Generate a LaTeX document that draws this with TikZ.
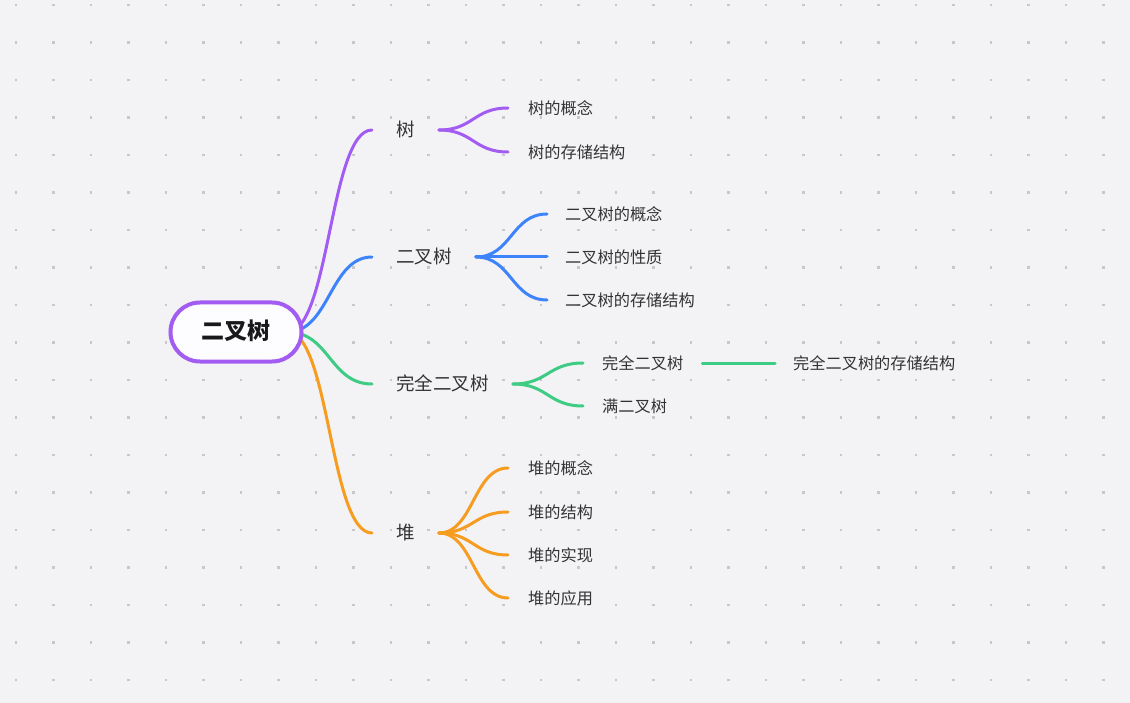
\documentclass[tikz,border=0pt]{standalone}
\usepackage{fontspec}
\newfontfamily\cjk{Noto Sans CJK SC}
\usetikzlibrary{calc}
\definecolor{bgc}{HTML}{F3F3F6}
\definecolor{dotc}{HTML}{C8C8CC}
\definecolor{cpurple}{HTML}{A35CF2}
\definecolor{cblue}{HTML}{3D83FA}
\definecolor{cgreen}{HTML}{3ECB83}
\definecolor{corange}{HTML}{F69C1F}
\definecolor{ctext}{HTML}{333333}
\definecolor{rootfill}{HTML}{FDFCFF}
\pgfdeclarelayer{back}
\pgfdeclarelayer{lines}
\pgfsetlayers{back,lines,main}
\begin{document}
\begin{tikzpicture}[x=1pt,y=-1pt,
  rootbox/.style={draw=cpurple, line width=4pt, fill=rootfill, minimum width=131pt, minimum height=59pt,
    rounded corners=29.5pt, inner sep=0pt, text=black!90, font=\cjk\bfseries\fontsize{23}{23}\selectfont,
    text height=1.5em, text depth=0.08em},
  lone/.style={anchor=west, inner xsep=24pt, inner ysep=0pt, text=ctext,
    font=\cjk\fontsize{18.5}{18.5}\selectfont, text height=1.3em, text depth=0.08em},
  ltwo/.style={anchor=west, inner xsep=20pt, inner ysep=0pt, text=ctext,
    font=\cjk\fontsize{16.2}{16.2}\selectfont, text height=1.3em, text depth=0.08em},
  lthree/.style={ltwo, inner xsep=18pt},
  link/.style={line width=3pt, line cap=round},
  branch/.style={to path={let \p1=(\tikztostart), \p2=(\tikztotarget) in
    .. controls ({0.5*\x1+0.5*\x2},\y1) and ({0.5*\x1+0.5*\x2},\y2) .. (\tikztotarget)}}
]
\useasboundingbox (0,0) rectangle (1130,703);
\begin{pgfonlayer}{back}
  \fill[bgc] (0,0) rectangle (1130,703);
  \foreach \i in {0,...,29}{
    \foreach \j in {0,...,18}{
      \fill[dotc] ({16+37.5*\i-1.1},{5+37.5*\j-1.1}) rectangle ++(2.2,2.2);
    }
  }
\end{pgfonlayer}

% root
\node[rootbox] (root) at (236,332) {二叉树};
\coordinate (rs) at ([xshift=-16pt]root.east);

% level 1
\node[lone] (tree) at (372,130) {树};
\node[lone] (btree) at (372,257) {二叉树};
\node[lone] (cbtree) at (372,384) {完全二叉树};
\node[lone] (heap) at (372,533) {堆};

% level 2
\node[ltwo] (t1) at (508,108) {树的概念};
\node[ltwo] (t2) at (508,152) {树的存储结构};
\node[ltwo, inner xsep=18pt] (b1) at (547,214) {二叉树的概念};
\node[ltwo, inner xsep=18pt] (b2) at (547,257) {二叉树的性质};
\node[ltwo, inner xsep=18pt] (b3) at (547,300) {二叉树的存储结构};
\node[ltwo, inner xsep=19pt] (c1) at (583,363) {完全二叉树};
\node[ltwo, inner xsep=19pt] (c2) at (583,406) {满二叉树};
\node[lthree] (c11) at (775,363) {完全二叉树的存储结构};
\node[ltwo] (h1) at (508,468) {堆的概念};
\node[ltwo] (h2) at (508,512) {堆的结构};
\node[ltwo] (h3) at (508,555) {堆的实现};
\node[ltwo] (h4) at (508,598) {堆的应用};

\begin{pgfonlayer}{lines}
  \draw[link, cpurple] (rs) to[branch] (tree.west);
  \draw[link, cblue] (rs) to[branch] (btree.west);
  \draw[link, cgreen] (rs) to[branch] (cbtree.west);
  \draw[link, corange] (rs) to[branch] (heap.west);

  \draw[link, cpurple] (tree.east) to[branch] (t1.west);
  \draw[link, cpurple] (tree.east) to[branch] (t2.west);

  \draw[link, cblue] (btree.east) to[branch] (b1.west);
  \draw[link, cblue] (btree.east) to[branch] (b2.west);
  \draw[link, cblue] (btree.east) to[branch] (b3.west);

  \draw[link, cgreen] (cbtree.east) to[branch] (c1.west);
  \draw[link, cgreen] (cbtree.east) to[branch] (c2.west);
  \draw[link, cgreen] (c1.east) -- (c11.west);

  \draw[link, corange] (heap.east) to[branch] (h1.west);
  \draw[link, corange] (heap.east) to[branch] (h2.west);
  \draw[link, corange] (heap.east) to[branch] (h3.west);
  \draw[link, corange] (heap.east) to[branch] (h4.west);
\end{pgfonlayer}
\end{tikzpicture}
\end{document}
